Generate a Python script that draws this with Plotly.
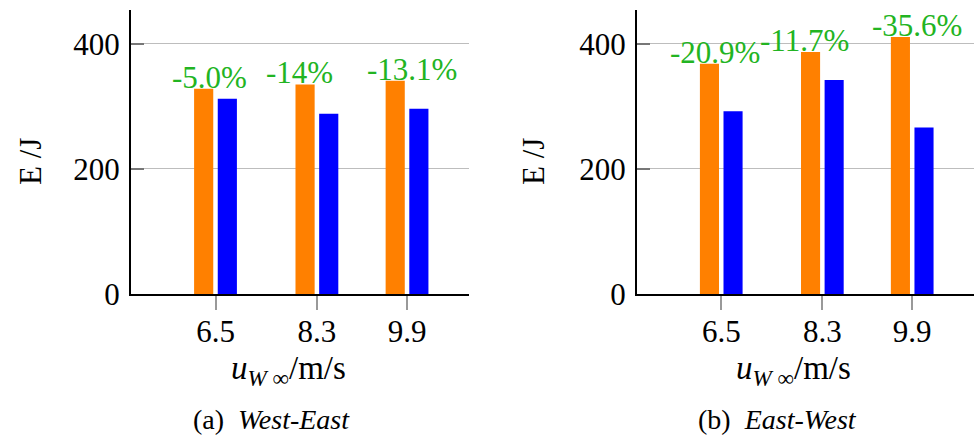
import plotly.graph_objects as go

# ---- data ----
speeds = [6.5, 8.3, 9.9]
speed_text = ["6.5", "8.3", "9.9"]
we_orange = [328, 335, 341]
we_blue = [312, 288, 296]
ew_orange = [368, 387, 411]
ew_blue = [292, 342, 266]
we_labels = ["-5.0%", "-14%", "-13.1%"]
ew_labels = ["-20.9%", "-11.7%", "-35.6%"]
label_x = [6.39, 7.99, 9.98]
y_ticks = [0, 200, 400]
captions = ["(a)  <i>West-East</i>", "(b)  <i>East-West</i>"]

ORANGE = "#ff8000"
BLUE = "#0000ff"
GREEN = "#22b422"
FONT = "Liberation Serif"

W, H = 977, 436
fig = go.Figure()

panels = [
    dict(xa="x", ya="y", orange=we_orange, blue=we_blue, labels=we_labels,
         dom=(131 / W, 469 / W), ytitle_x=30, xtitle_x=288, cap_x=271),
    dict(xa="x2", ya="y2", orange=ew_orange, blue=ew_blue, labels=ew_labels,
         dom=(637 / W, 974 / W), ytitle_x=533, xtitle_x=793, cap_x=777),
]

annotations = []
for i, p in enumerate(panels):
    fig.add_trace(go.Bar(x=speeds, y=p["orange"], width=0.34, offset=-0.38,
                         marker=dict(color=ORANGE, line=dict(width=0)),
                         xaxis=p["xa"], yaxis=p["ya"], showlegend=False))
    fig.add_trace(go.Bar(x=speeds, y=p["blue"], width=0.34, offset=0.04,
                         marker=dict(color=BLUE, line=dict(width=0)),
                         xaxis=p["xa"], yaxis=p["ya"], showlegend=False))
    for lx, ly, lt in zip(label_x, p["orange"], p["labels"]):
        annotations.append(dict(x=lx, y=ly, xref=p["xa"], yref=p["ya"], text=lt,
                                showarrow=False, yanchor="bottom", xanchor="center",
                                yshift=-8, font=dict(family=FONT, size=31, color=GREEN)))
    annotations.append(dict(x=p["ytitle_x"] / W, y=1 - 162 / H, xref="paper", yref="paper",
                            text="E /J", textangle=-90, showarrow=False,
                            xanchor="center", yanchor="middle",
                            font=dict(family=FONT, size=31, color="black")))
    annotations.append(dict(x=p["xtitle_x"] / W, y=1 - 370 / H, xref="paper", yref="paper",
                            text="<i>u</i><sub><i>W</i> ∞</sub>/m/s", showarrow=False,
                            xanchor="center", yanchor="middle",
                            font=dict(family=FONT, size=33, color="black")))
    annotations.append(dict(x=p["cap_x"] / W, y=1 - 419 / H, xref="paper", yref="paper",
                            text=captions[i], showarrow=False,
                            xanchor="center", yanchor="middle",
                            font=dict(family=FONT, size=28, color="black")))

ydom = (1 - 294 / H, 1 - 10 / H)
axis_common_x = dict(range=[5, 11], tickvals=speeds, ticktext=speed_text,
                     ticks="outside", ticklen=14, tickcolor="#999999", tickwidth=2,
                     showline=True, linecolor="black", linewidth=2, showgrid=False,
                     zeroline=False, automargin=False, ticklabelstandoff=-5,
                     tickfont=dict(family=FONT, size=31, color="black"))
axis_common_y = dict(range=[0, 454], tickvals=y_ticks, ticks="inside", ticklen=13,
                     tickcolor="#777777", tickwidth=2, showline=True, linecolor="black",
                     linewidth=2, showgrid=True, gridcolor="#bdbdbd", gridwidth=1,
                     zeroline=False, automargin=False, ticklabelstandoff=3,
                     tickfont=dict(family=FONT, size=31, color="black"))

fig.update_layout(
    width=W, height=H, margin=dict(l=0, r=0, t=0, b=0, autoexpand=False),
    paper_bgcolor="white", plot_bgcolor="white", barmode="overlay",
    xaxis=dict(domain=panels[0]["dom"], anchor="y", **axis_common_x),
    xaxis2=dict(domain=panels[1]["dom"], anchor="y2", **axis_common_x),
    yaxis=dict(domain=ydom, anchor="x", **axis_common_y),
    yaxis2=dict(domain=ydom, anchor="x2", **axis_common_y),
    annotations=annotations,
)

fig.write_html("out.html")
